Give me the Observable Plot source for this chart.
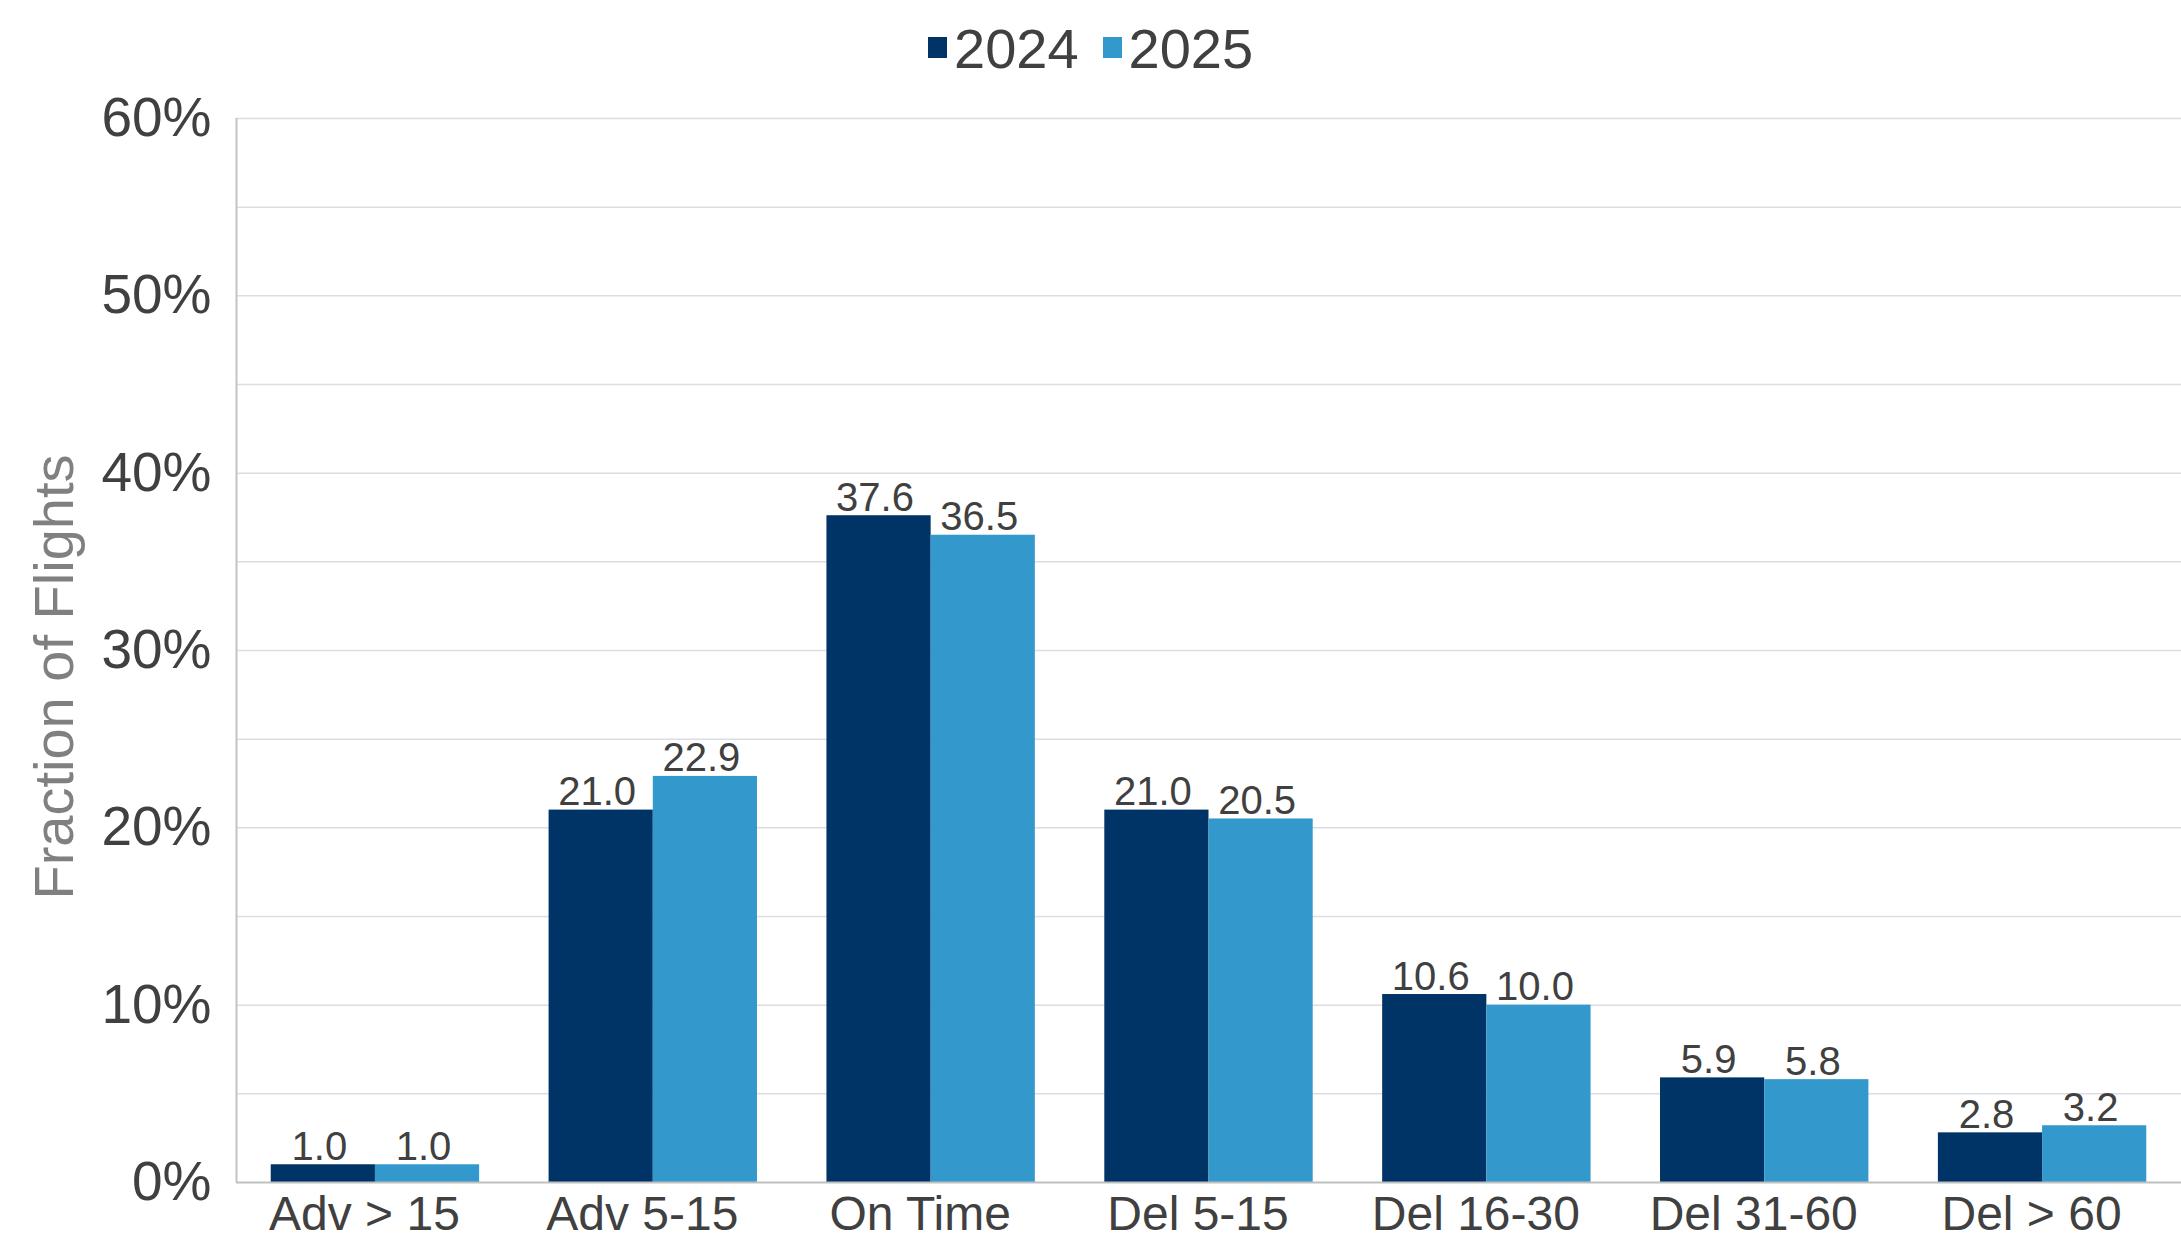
<!DOCTYPE html>
<html>
<head>
<meta charset="utf-8">
<script src="https://cdn.jsdelivr.net/npm/d3@7"></script>
<script src="https://cdn.jsdelivr.net/npm/@observablehq/plot@0.6"></script>
<style>
  html, body { margin: 0; padding: 0; background: #fff; }
  #wrap { position: relative; width: 2181px; height: 1242px; overflow: hidden; font-family: "Liberation Sans", Arial, sans-serif; }
  #legend { position: absolute; left: 928px; top: 21px; display: flex; align-items: flex-start; font-size: 56px; line-height: 56px; color: #404040; }
  .item { display: flex; align-items: flex-start; margin-right: 24px; }
  .sw { width: 19px; height: 21px; margin-top: 16px; margin-right: 7px; }
  #ytitle { position: absolute; left: 54px; top: 677px; transform: translate(-50%, -50%) rotate(-90deg); font-size: 56px; line-height: 56px; color: #808080; white-space: nowrap; }
  svg text { font-family: "Liberation Sans", Arial, sans-serif; }
</style>
</head>
<body>
<div id="wrap">
  <div id="chart"></div>
  <div id="legend"></div>
  <div id="ytitle"></div>
</div>
<script>
const categories = ["Adv > 15", "Adv 5-15", "On Time", "Del 5-15", "Del 16-30", "Del 31-60", "Del > 60"];
const years = ["2024", "2025"];
const values2024 = [1.0, 21.0, 37.6, 21.0, 10.6, 5.9, 2.8];
const values2025 = [1.0, 22.9, 36.5, 20.5, 10.0, 5.8, 3.2];
const colors = ["#003366", "#3399CC"];
const yTicks = [0, 10, 20, 30, 40, 50, 60];
const yGrid = [5, 10, 15, 20, 25, 30, 35, 40, 45, 50, 55, 60];
const yTitle = "Fraction of Flights";

const groupPad = 0.125;
const barW = 0.375;
const rows = [];
categories.forEach((c, i) => {
  [values2024, values2025].forEach((vals, j) => {
    const x1 = i + groupPad + j * barW;
    rows.push({category: c, year: years[j], value: vals[i], x1, x2: x1 + barW, xc: x1 + barW / 2});
  });
});

const chart = Plot.plot({
  width: 2181,
  height: 1242,
  marginLeft: 236,
  marginRight: 0,
  marginTop: 118,
  marginBottom: 60,
  style: {color: "#404040", background: "#fff", fontFamily: "Liberation Sans, Arial, sans-serif"},
  x: {type: "linear", domain: [0, categories.length], axis: null},
  y: {domain: [0, 60], axis: null},
  color: {domain: years, range: colors},
  marks: [
    Plot.ruleY(yGrid, {stroke: "#dcdde4", strokeWidth: 1.5}),
    Plot.rectY(rows, {x1: "x1", x2: "x2", y: "value", fill: "year"}),
    Plot.ruleX([0], {y1: 0, y2: 60, stroke: "#c4c4c4", strokeWidth: 2}),
    Plot.ruleY([0], {stroke: "#bfbfbf", strokeWidth: 2}),
    Plot.text(rows, {x: "xc", y: "value", text: d => d.value.toFixed(1), dx: -4, dy: -5, lineAnchor: "bottom", fontSize: 40, fill: "#404040"}),
    Plot.axisY({ticks: yTicks, tickFormat: d => d + "%", tickSize: 0, tickPadding: 25, fontSize: 55, label: null}),
    Plot.axisX({ticks: categories.map((c, i) => i + 0.5), tickFormat: d => categories[Math.round(d - 0.5)], tickSize: 0, tickPadding: 13, dx: -11, fontSize: 48, label: null})
  ]
});
document.getElementById("chart").appendChild(chart);

const legend = document.getElementById("legend");
years.forEach((y, j) => {
  const it = document.createElement("div");
  it.className = "item";
  const sw = document.createElement("div");
  sw.className = "sw";
  sw.style.background = colors[j];
  const t = document.createElement("span");
  t.textContent = y;
  it.appendChild(sw);
  it.appendChild(t);
  legend.appendChild(it);
});
document.getElementById("ytitle").textContent = yTitle;
</script>
</body>
</html>
